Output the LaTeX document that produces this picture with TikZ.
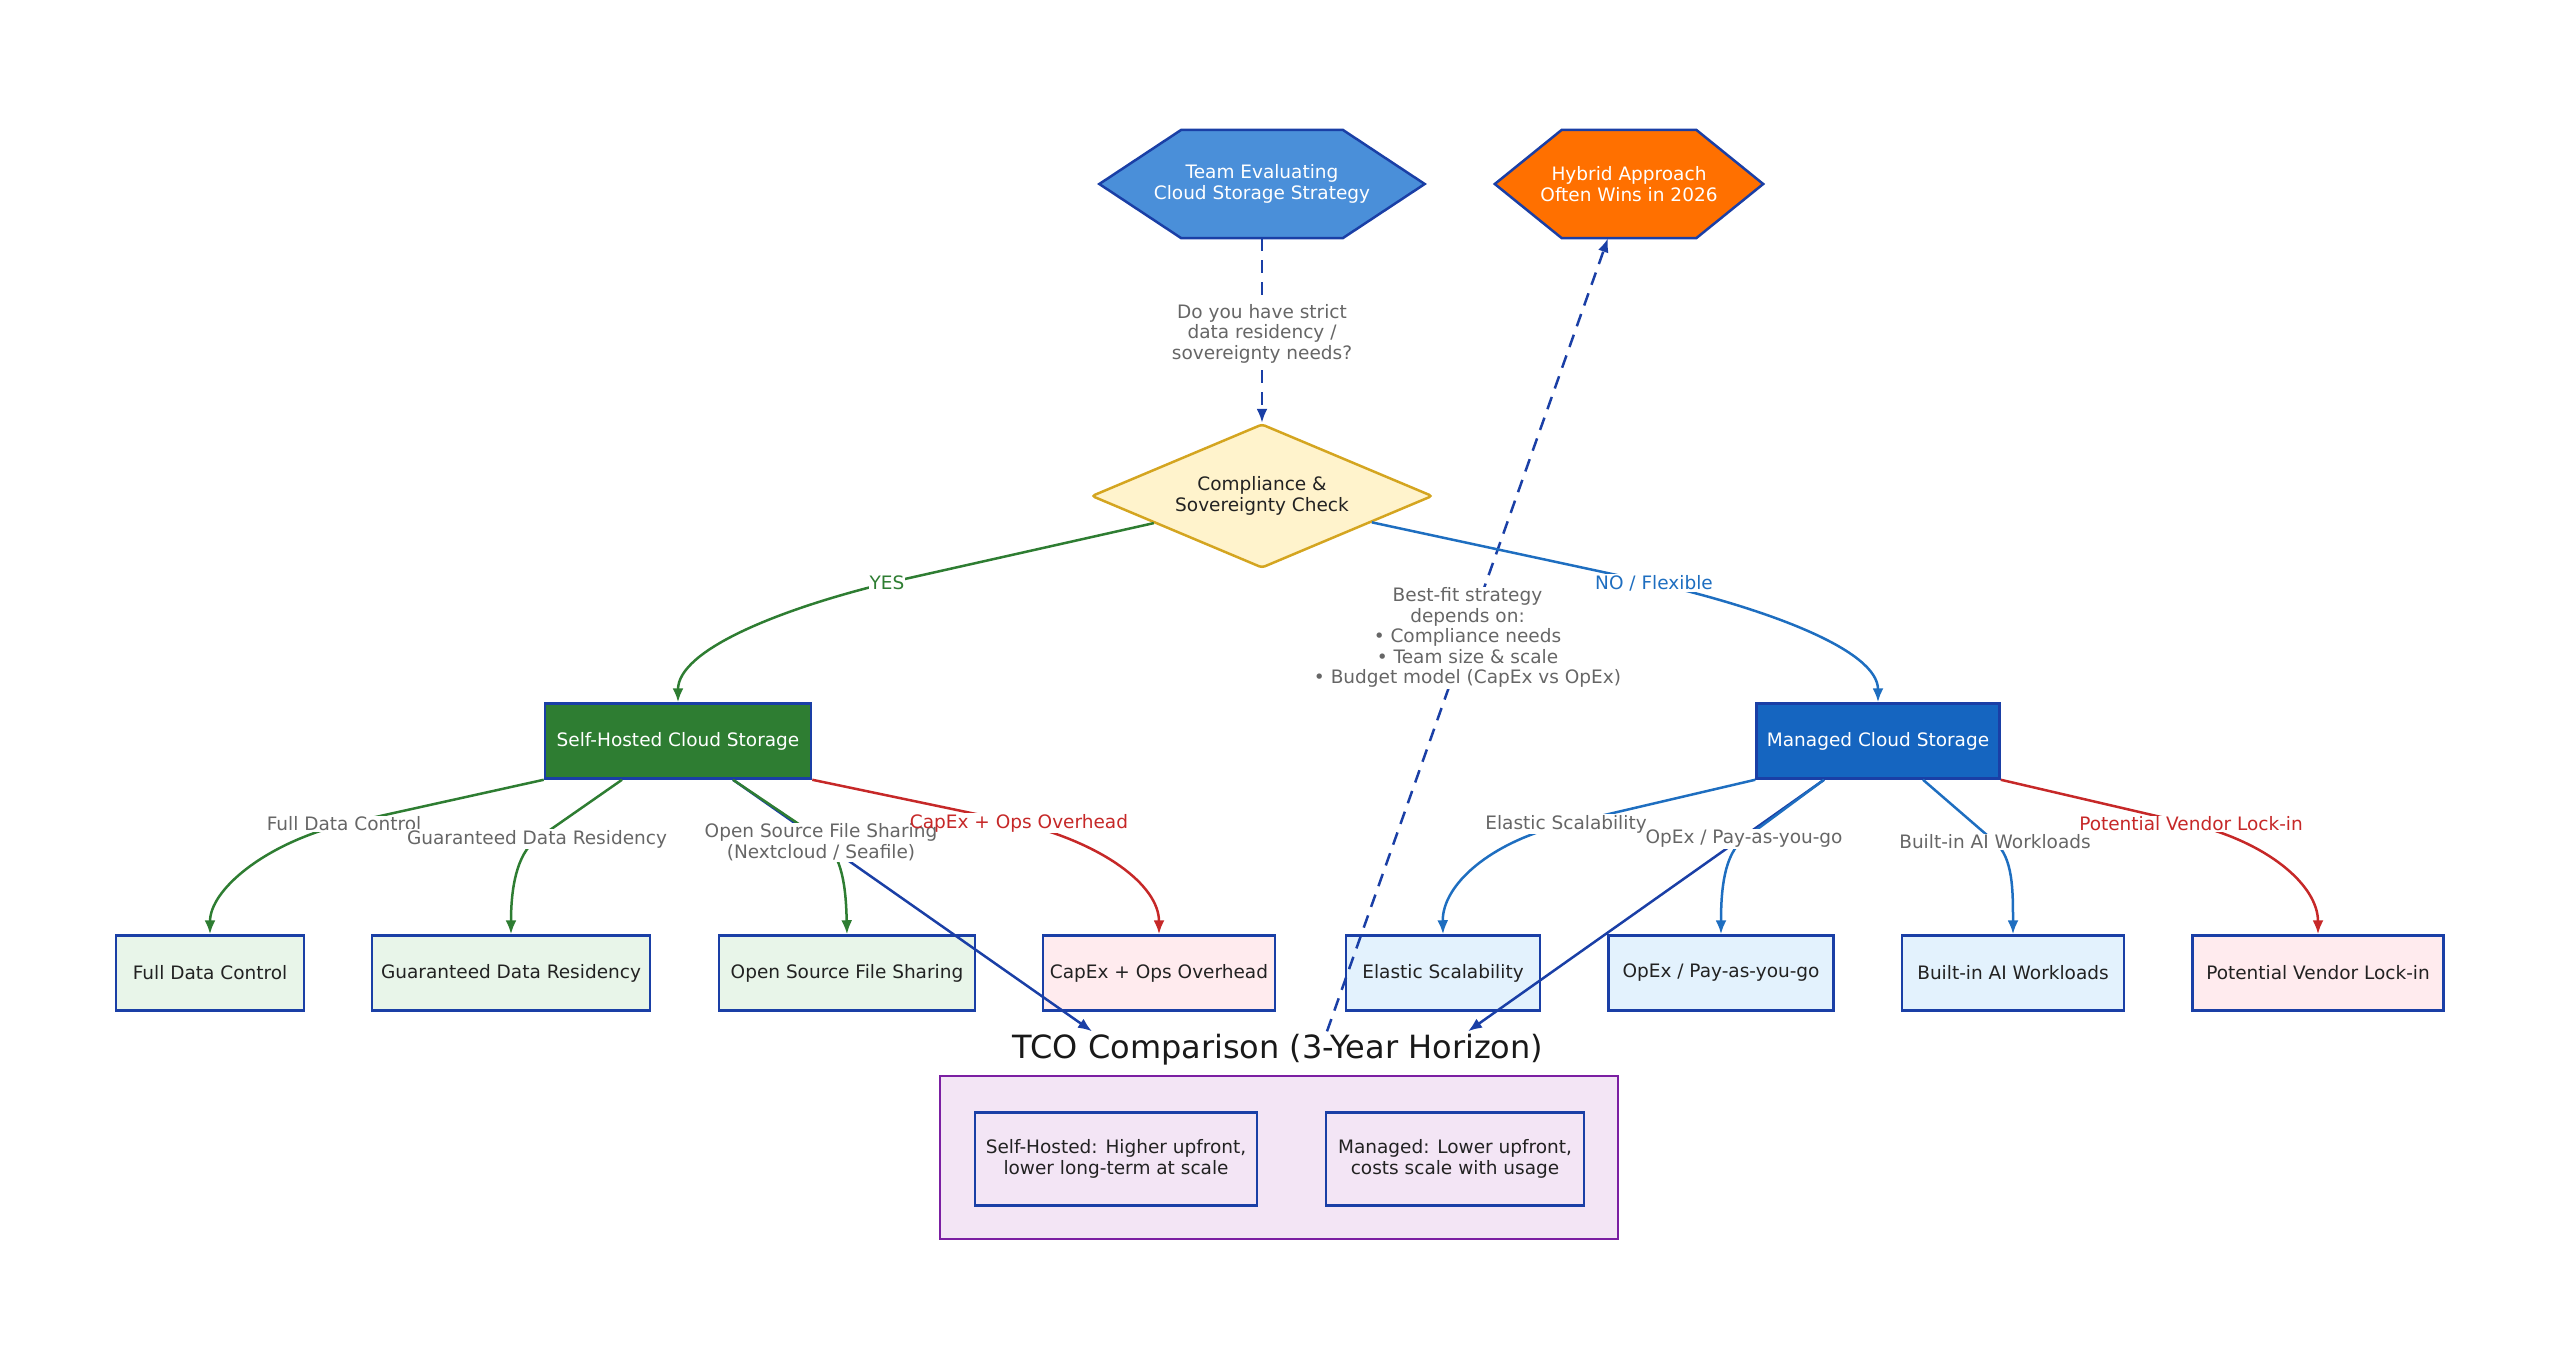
\documentclass[tikz,border=0pt]{standalone}
\usepackage{fontspec}
\setmainfont{DejaVu Sans}
\usetikzlibrary{shapes.geometric,arrows.meta,backgrounds,calc}
\definecolor{navy}{HTML}{1A3FA6}
\definecolor{hexblue}{HTML}{4A8FD9}
\definecolor{hexorange}{HTML}{FF7000}
\definecolor{diafill}{HTML}{FFF3CC}
\definecolor{diadraw}{HTML}{D4A520}
\definecolor{shgreen}{HTML}{2E7D32}
\definecolor{mgblue}{HTML}{1565C0}
\definecolor{egreen}{HTML}{2E7D32}
\definecolor{eblue}{HTML}{1E6EC0}
\definecolor{ered}{HTML}{C62828}
\definecolor{lgreen}{HTML}{E8F5E9}
\definecolor{lblue}{HTML}{E3F2FD}
\definecolor{lpink}{HTML}{FFEBEE}
\definecolor{lpurple}{HTML}{F3E5F5}
\definecolor{cpurple}{HTML}{7B1FA2}
\definecolor{lgray}{HTML}{666666}
\definecolor{ink}{HTML}{222222}
\tikzset{
  txt/.style={font=\fontsize{18.5}{20.5}\selectfont, align=center},
  box/.style={txt, draw=navy, line width=2.5pt, inner sep=0pt, minimum height=75pt, text=ink},
  leafg/.style={box, fill=lgreen},
  leafb/.style={box, fill=lblue},
  leafp/.style={box, fill=lpink},
  hexnode/.style={txt, text=white, minimum height=108pt, inner sep=0pt},
  elab/.style={txt, text=lgray, fill=white, inner sep=1pt},
  mlshift/.style={yshift=-3pt},
  tip/.style={-{Latex[length=14pt,width=11pt]}},
  edge/.style={line width=2.5pt, tip},
  dashline/.style={dash pattern=on 13pt off 9pt},
}
\begin{document}
\begin{tikzpicture}[x=1pt,y=-1pt]
\useasboundingbox (0,0) rectangle (2560,1355);

% top hexagons
\node[hexnode, minimum width=325pt, mlshift] (team) at (1262,181) {Team Evaluating\\Cloud Storage Strategy};
\node[hexnode, minimum width=268pt, mlshift] (hyb) at (1629,181) {Hybrid Approach\\Often Wins in 2026};
\begin{scope}[on background layer]
\filldraw[fill=hexblue, draw=navy, line width=2.5pt, line join=miter]
  (team.west) -- ([xshift=82pt]team.north west) -- ([xshift=-82pt]team.north east)
  -- (team.east) -- ([xshift=-82pt]team.south east) -- ([xshift=82pt]team.south west) -- cycle;
\filldraw[fill=hexorange, draw=navy, line width=2.5pt, line join=miter]
  (hyb.west) -- ([xshift=67pt]hyb.north west) -- ([xshift=-67pt]hyb.north east)
  -- (hyb.east) -- ([xshift=-67pt]hyb.south east) -- ([xshift=67pt]hyb.south west) -- cycle;
\end{scope}

% decision
\node[diamond, aspect=2.37, txt, text=ink, fill=diafill, draw=diadraw, line width=2.5pt,
      minimum width=341pt, minimum height=144pt, inner sep=0pt, rounded corners=3pt, mlshift] (dia) at (1262,493)
      {Compliance \&\\Sovereignty Check};

% main branches
\node[box, fill=shgreen, text=white, minimum width=266pt] (sh) at (678,741) {Self-Hosted Cloud Storage};
\node[box, fill=mgblue, text=white, minimum width=243pt] (mg) at (1878,741) {Managed Cloud Storage};

% leaves
\node[leafg, minimum width=188pt] (fdc) at (210,973) {Full Data Control};
\node[leafg, minimum width=278pt] (gdr) at (511,973) {Guaranteed Data Residency};
\node[leafg, minimum width=256pt] (osfs) at (847,973) {Open Source File Sharing};
\node[leafp, minimum width=232pt] (capex) at (1159,973) {CapEx + Ops Overhead};
\node[leafb, minimum width=194pt] (elas) at (1443,973) {Elastic Scalability};
\node[leafb, minimum width=225pt] (opex) at (1721,973) {OpEx / Pay-as-you-go};
\node[leafb, minimum width=222pt] (ai) at (2013,973) {Built-in AI Workloads};
\node[leafp, minimum width=251pt] (vend) at (2318,973) {Potential Vendor Lock-in};

% TCO cluster
\node[font=\fontsize{32}{38}\selectfont, text=black!90, inner sep=3pt] (tcot) at (1278,1050) {TCO Comparison (3-Year Horizon)};
\node[draw=cpurple, fill=lpurple, line width=2.5pt, minimum width=678pt, minimum height=163pt, inner sep=0pt] (tco) at (1279,1157.5) {};
\node[box, fill=lpurple, minimum width=282pt, minimum height=93pt] (tcos) at (1116,1159) {Self-Hosted: Higher upfront,\\lower long-term at scale};
\node[box, fill=lpurple, minimum width=258pt, minimum height=93pt] (tcom) at (1455,1159) {Managed: Lower upfront,\\costs scale with usage};

% question edge
\draw[edge, navy, dashline] (team.south) -- (dia.north)
  node[midway, elab, mlshift] {Do you have strict\\data residency /\\sovereignty needs?};

% hybrid edge
\draw[edge, navy, dashline] ([xshift=49pt]tcot.north) -- ([xshift=-21pt]hyb.south)
  node[midway, elab, mlshift] {Best-fit strategy\\depends on:\\• Compliance needs\\• Team size \& scale\\• Budget model (CapEx vs OpEx)};

% navy cost arrows
\draw[edge, navy] ([xshift=55pt]sh.south) -- ([xshift=-186pt]tcot.north);
\draw[edge, navy] ([xshift=-54pt]mg.south) -- ([xshift=190pt]tcot.north);

% YES / NO
\draw[edge, egreen] ($(dia.west)!0.37!(dia.south)$) -- (887,583) node[elab, text=egreen] {YES}
  .. controls (780,609) and (678,650) .. (sh.north);
\draw[edge, eblue] ($(dia.east)!0.36!(dia.south)$) -- (1654,583) node[elab, text=eblue] {NO / Flexible}
  .. controls (1767,609) and (1878,650) .. (mg.north);

% self-hosted leaves
\draw[edge, egreen] (sh.south west) -- (344,824) node[elab] {Full Data Control}
  .. controls (264,844) and (210,890) .. (fdc.north);
\draw[edge, egreen] ([xshift=-56pt]sh.south) -- (537,839) node[elab] {Guaranteed Data Residency}
  .. controls (516,854) and (511,890) .. (gdr.north);
\draw[edge, egreen] ([xshift=55pt]sh.south) -- (821,839) coordinate (losfs)
  .. controls (843,854) and (846,890) .. (osfs.north);
\draw[edge, ered] (sh.south east) -- (1019,823) coordinate (lcapex)
  .. controls (1102,843) and (1159,885) .. (capex.north);
\node[elab, mlshift] at (losfs) {\phantom{Open Source File Sharing}\\\phantom{(Nextcloud / Seafile)}};
\node[elab] at (lcapex) {\phantom{CapEx + Ops Overhead}};
\node[elab, fill=none, mlshift] (tosfs) at (losfs) {Open Source File Sharing\\(Nextcloud / Seafile)};
\node[elab, fill=none, text=ered] (tcapex) at (lcapex) {CapEx + Ops Overhead};

% managed leaves
\draw[edge, eblue] (mg.south west) -- (1566,824) node[elab] {Elastic Scalability}
  .. controls (1490,842) and (1442,885) .. (elas.north);
\draw[edge, eblue] ([xshift=-54pt]mg.south) -- (1744,839) node[elab] {OpEx / Pay-as-you-go}
  .. controls (1724,854) and (1721,890) .. (opex.north);
\draw[edge, eblue] ([xshift=45pt]mg.south) -- (1995,842) node[elab] {Built-in AI Workloads}
  .. controls (2013,858) and (2013,890) .. (ai.north);
\draw[edge, ered] (mg.south east) -- (2191,824) node[elab, text=ered] {Potential Vendor Lock-in}
  .. controls (2267,842) and (2318,885) .. (vend.north);
\end{tikzpicture}
\end{document}
